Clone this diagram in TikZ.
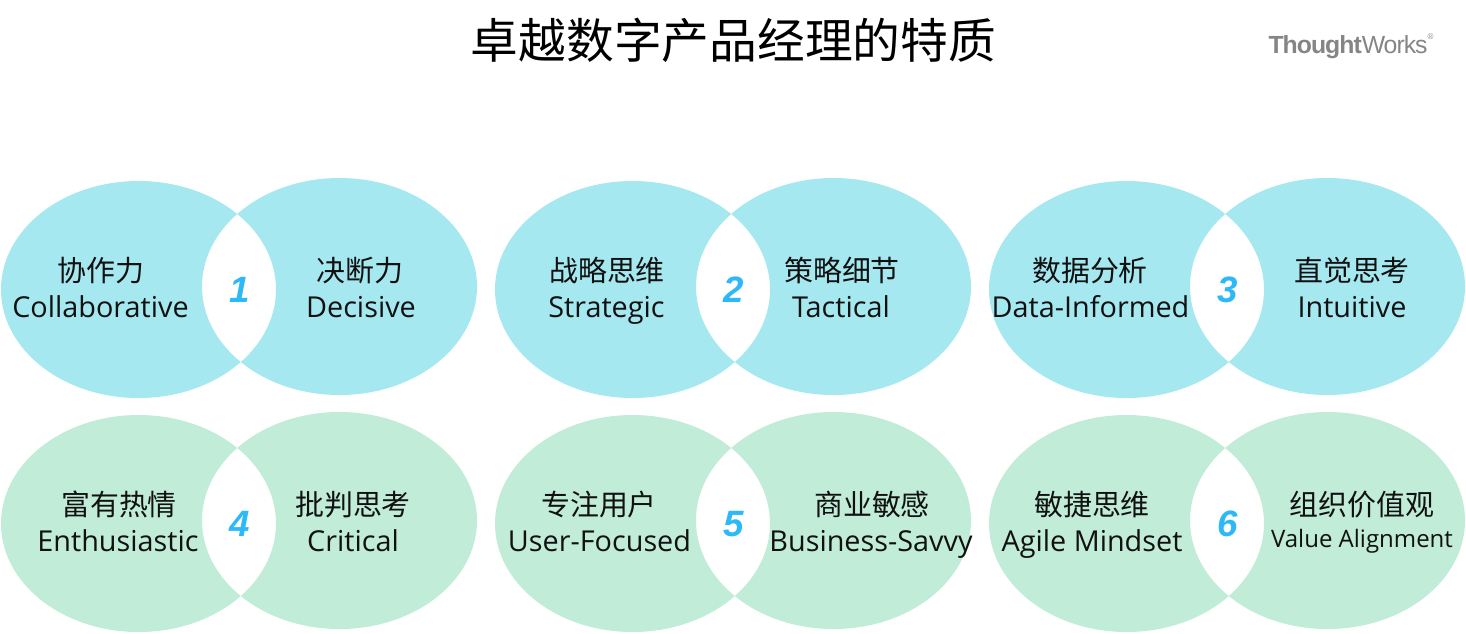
\documentclass[tikz,border=0pt]{standalone}
\usepackage{fontspec}
\setmainfont{Open Sans}
\newfontfamily\cjk{Noto Sans CJK SC}
\newfontfamily\numfont{Liberation Sans}
\newfontfamily\logofont{Liberation Sans}
\definecolor{rowblue}{HTML}{A5E8F0}
\definecolor{rowgreen}{HTML}{C0ECD8}
\definecolor{numblue}{HTML}{2DB8F8}
\definecolor{logogray}{HTML}{858585}
\definecolor{ink}{HTML}{111111}
\tikzset{
  x=0.75pt,y=-0.75pt,
  cn/.style={anchor=base,inner sep=0pt,text=ink,font=\fontsize{21.7}{22}\selectfont\cjk},
  en/.style={anchor=base,inner sep=0pt,text=ink,font=\fontsize{21.6}{22}\selectfont},
  ensmall/.style={anchor=base,inner sep=0pt,text=ink,font=\fontsize{18}{18}\selectfont},
  numlabel/.style={anchor=center,inner sep=0pt,text=numblue,font=\fontsize{27.5}{28}\selectfont\numfont\bfseries\itshape},
  titlelabel/.style={anchor=base,inner sep=0pt,text=black,font=\fontsize{35.8}{36}\selectfont\cjk},
  logolabel/.style={anchor=base,inner sep=0pt,text=logogray,font=\fontsize{18.6}{19}\selectfont\logofont}
}
\newcommand{\venn}[3]{% x offset, y offset, colour
  \fill[#3,even odd rule] (138.5+#1,289.5+#2) ellipse [x radius=137.5,y radius=108.5]
                          (339.5+#1,286.5+#2) ellipse [x radius=137.5,y radius=108.5];
}
\begin{document}
\begin{tikzpicture}
\useasboundingbox (0,0) rectangle (1466,633);
\venn{0}{0}{rowblue}
\venn{494}{0}{rowblue}
\venn{988}{0}{rowblue}
\venn{0}{234}{rowgreen}
\venn{494}{234}{rowgreen}
\venn{988}{234}{rowgreen}

\node[titlelabel] (title) at (733.5,58) {卓越数字产品经理的特质};
\node[logolabel] (logo) at (1351,53) {\addfontfeature{LetterSpace=-4}\bfseries Thought\mdseries Works\raisebox{1.05ex}{\fontsize{6}{6}\selectfont ®}};

\node[cn] (a1) at (101,281.5) {协作力};
\node[en] (a2) at (100.5,317) {Collaborative};
\node[cn] (b1) at (360,281.5) {决断力};
\node[en] (b2) at (361,317) {Decisive};
\node[numlabel] (n1) at (239.5,290) {1};

\node[cn] (c1) at (607,281.5) {战略思维};
\node[en] (c2) at (606.5,317) {Strategic};
\node[cn] (d1) at (842,281.5) {策略细节};
\node[en] (d2) at (841,317) {Tactical};
\node[numlabel] (n2) at (733.5,290) {2};

\node[cn] (e1) at (1090,281.5) {数据分析};
\node[en] (e2) at (1090.5,317) {Data-Informed};
\node[cn] (f1) at (1352,281.5) {直觉思考};
\node[en] (f2) at (1352,317) {Intuitive};
\node[numlabel] (n3) at (1227.5,290) {3};

\node[cn] (g1) at (119,515.5) {富有热情};
\node[en] (g2) at (118,551) {Enthusiastic};
\node[cn] (h1) at (353,515.5) {批判思考};
\node[en] (h2) at (353,551) {Critical};
\node[numlabel] (n4) at (239.5,524) {4};

\node[cn] (i1) at (599,515.5) {专注用户};
\node[en] (i2) at (599.5,551) {User-Focused};
\node[cn] (j1) at (872,515.5) {商业敏感};
\node[en] (j2) at (871,551) {Business-Savvy};
\node[numlabel] (n5) at (733.5,524) {5};

\node[cn] (k1) at (1092,515.5) {敏捷思维};
\node[en] (k2) at (1092,551) {Agile Mindset};
\node[cn] (l1) at (1362,515.5) {组织价值观};
\node[ensmall] (l2) at (1362,547) {Value Alignment};
\node[numlabel] (n6) at (1227.5,524) {6};
\end{tikzpicture}
\end{document}
